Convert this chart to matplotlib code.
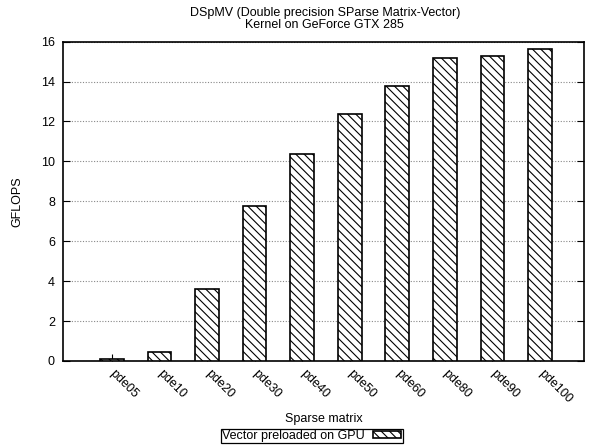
import matplotlib
matplotlib.use("Agg")
import matplotlib.pyplot as plt
import numpy as np

# GFLOPS per sparse matrix
matrices = ["pde05", "pde10", "pde20", "pde30", "pde40",
            "pde50", "pde60", "pde80", "pde90", "pde100"]
gflops = [0.08, 0.47, 3.6, 7.75, 10.35, 12.4, 13.8, 15.2, 15.3, 15.63]
yticks = [0, 2, 4, 6, 8, 10, 12, 14, 16]

plt.rcParams['font.family'] = ['Liberation Sans', 'DejaVu Sans']
plt.rcParams['font.size'] = 9
plt.rcParams['hatch.linewidth'] = 0.8

fig = plt.figure(figsize=(5.95, 4.46), dpi=100)
ax = fig.add_axes([0.1064, 0.1906, 0.8756, 0.716])

x = np.arange(len(matrices))
ax.bar(x, gflops, width=0.5, color='white', edgecolor='black',
       linewidth=1.2, hatch='\\\\\\\\', label='Vector preloaded on GPU', zorder=3)

ax.set_xlim(-1.02, 9.93)
ax.set_ylim(0, 16)
ax.set_yticks(yticks)
ax.set_xticks(x)
ax.set_xticklabels(matrices, rotation=-45, ha='left', va='center',
                   rotation_mode='anchor')
ax.tick_params(axis='x', direction='in', length=5, pad=8, top=False)
ax.tick_params(axis='y', direction='in', length=5, right=True, pad=6)
ax.yaxis.grid(True, linestyle=(0, (1, 1.5)), color='#888888', linewidth=0.8, zorder=0)
for s in ax.spines.values():
    s.set_linewidth(1.2)

ax.set_ylabel("GFLOPS")
ax.yaxis.set_label_coords(-0.077, 0.5)
ax.set_xlabel("Sparse matrix")
ax.xaxis.set_label_coords(0.5, -0.163)
fig.text(0.546, 0.957, "DSpMV (Double precision SParse Matrix-Vector)\nKernel on GeForce GTX 285",
         ha='center', va='center', linespacing=1.0)

leg = ax.legend(loc='center', bbox_to_anchor=(0.524, 0.022),
                bbox_transform=fig.transFigure, markerfirst=False,
                fancybox=False, framealpha=1, edgecolor='black',
                handlelength=2.3, handleheight=0.5, borderpad=0.1,
                handletextpad=0.6, borderaxespad=0)
leg.get_frame().set_linewidth(0.9)

fig.savefig("out.png", dpi=100)
